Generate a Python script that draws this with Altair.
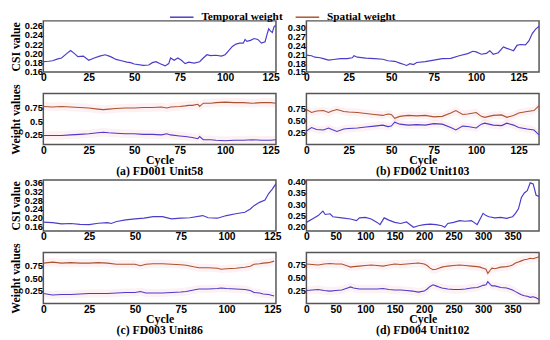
import altair as alt
import pandas as pd

# ---------------- data ----------------
# (a) FD001 Unit58
a_csi_x = [0,3,5,8,10,13,15,17,19,22,25,28,31,34,37,40,43,46,48,50,55,58,60,62,64,67,69,70,72,74,76,78,80,83,86,88,90,92,95,98,100,102,104,106,108,110,111,112,114,116,118,120,122,123,124,125,126,127,128]
a_csi_y = [0.182,0.183,0.184,0.188,0.190,0.200,0.206,0.200,0.193,0.194,0.185,0.190,0.194,0.197,0.193,0.187,0.184,0.181,0.180,0.177,0.174,0.175,0.180,0.182,0.178,0.173,0.178,0.190,0.185,0.190,0.185,0.178,0.181,0.179,0.182,0.190,0.197,0.195,0.196,0.194,0.197,0.206,0.215,0.220,0.222,0.222,0.230,0.226,0.228,0.232,0.230,0.222,0.225,0.240,0.253,0.248,0.245,0.258,0.260]
a_w_x = [0,5,10,15,20,25,30,33,36,40,45,50,55,60,65,68,70,75,78,80,82,85,86,88,92,95,100,105,110,115,120,125,128]
a_spatial = [0.78,0.77,0.78,0.77,0.76,0.75,0.73,0.72,0.73,0.74,0.75,0.75,0.76,0.76,0.77,0.75,0.77,0.78,0.79,0.80,0.80,0.82,0.78,0.84,0.84,0.85,0.86,0.85,0.85,0.84,0.85,0.85,0.84]
a_temporal = [0.24,0.24,0.24,0.25,0.26,0.27,0.29,0.30,0.29,0.28,0.27,0.27,0.26,0.26,0.25,0.27,0.25,0.23,0.22,0.21,0.20,0.18,0.22,0.16,0.16,0.15,0.14,0.15,0.15,0.16,0.15,0.15,0.16]

# (b) FD002 Unit103
b_csi_x = [0,3,5,8,10,13,16,20,24,27,28,30,35,40,45,48,52,55,57,59,61,63,65,70,75,80,85,90,95,98,100,103,106,108,110,113,116,118,120,122,124,126,129,131,133,135,137]
b_csi_y = [0.207,0.205,0.200,0.198,0.195,0.190,0.192,0.195,0.195,0.198,0.205,0.200,0.197,0.195,0.193,0.188,0.186,0.180,0.176,0.172,0.178,0.175,0.182,0.185,0.190,0.195,0.196,0.205,0.212,0.220,0.218,0.210,0.213,0.222,0.210,0.215,0.235,0.230,0.226,0.222,0.240,0.243,0.242,0.255,0.280,0.295,0.305]
b_w_x = [0,3,6,10,13,15,18,22,25,30,35,40,45,48,50,52,55,60,65,70,75,80,85,88,92,95,100,103,105,110,115,118,122,125,130,134,137]
b_spatial = [0.72,0.66,0.69,0.70,0.66,0.69,0.72,0.68,0.67,0.66,0.64,0.62,0.60,0.63,0.62,0.54,0.58,0.60,0.59,0.60,0.57,0.58,0.65,0.70,0.62,0.63,0.66,0.58,0.56,0.60,0.61,0.56,0.60,0.65,0.68,0.70,0.80]
b_temporal = [0.28,0.35,0.31,0.30,0.34,0.31,0.27,0.32,0.33,0.34,0.36,0.38,0.40,0.37,0.38,0.46,0.42,0.40,0.41,0.40,0.43,0.42,0.35,0.30,0.38,0.37,0.34,0.42,0.44,0.40,0.39,0.44,0.40,0.35,0.32,0.30,0.20]

# (c) FD003 Unit86
c_csi_x = [0,5,10,15,20,25,30,35,37,40,45,50,55,60,65,70,75,80,87,90,95,100,105,110,113,115,118,121,123,125,127]
c_csi_y = [0.180,0.178,0.172,0.174,0.170,0.169,0.175,0.178,0.174,0.183,0.190,0.195,0.198,0.205,0.205,0.195,0.198,0.200,0.210,0.200,0.198,0.210,0.218,0.225,0.240,0.255,0.270,0.280,0.310,0.330,0.355]
c_w_x = [0,5,10,15,20,25,30,35,40,45,50,53,56,60,65,70,75,78,82,85,90,95,97,100,105,110,113,115,118,120,123,126]
c_spatial = [0.80,0.82,0.80,0.81,0.80,0.80,0.81,0.80,0.78,0.78,0.78,0.75,0.78,0.79,0.79,0.78,0.77,0.76,0.73,0.71,0.71,0.70,0.68,0.69,0.70,0.72,0.74,0.78,0.79,0.80,0.81,0.84]
c_temporal = [0.20,0.17,0.18,0.18,0.19,0.20,0.20,0.20,0.21,0.22,0.22,0.24,0.21,0.21,0.21,0.22,0.23,0.24,0.27,0.29,0.29,0.30,0.31,0.30,0.29,0.28,0.26,0.22,0.21,0.19,0.18,0.15]

# (d) FD004 Unit102
d_csi_x = [0,10,20,28,32,40,45,60,75,85,90,100,110,120,125,132,140,150,160,170,175,182,190,200,210,220,230,235,240,250,260,270,280,290,300,305,310,320,330,340,350,355,360,365,370,375,380,385,390,395]
d_csi_y = [0.220,0.235,0.250,0.270,0.255,0.258,0.245,0.240,0.235,0.228,0.240,0.242,0.235,0.220,0.210,0.240,0.230,0.220,0.215,0.222,0.212,0.198,0.205,0.210,0.212,0.210,0.205,0.198,0.215,0.220,0.228,0.225,0.228,0.210,0.260,0.250,0.245,0.240,0.242,0.238,0.245,0.260,0.280,0.330,0.350,0.360,0.395,0.390,0.340,0.335]
d_w_x = [0,10,20,30,40,50,60,70,75,80,90,100,110,120,130,140,150,160,170,180,190,200,205,210,215,220,225,230,240,250,260,270,280,290,295,300,305,308,312,315,320,330,340,345,350,355,360,365,370,375,380,385,390,395]
d_spatial = [0.76,0.75,0.74,0.76,0.77,0.76,0.76,0.72,0.70,0.71,0.72,0.73,0.74,0.73,0.72,0.74,0.76,0.75,0.76,0.77,0.78,0.76,0.73,0.68,0.65,0.66,0.68,0.70,0.72,0.73,0.74,0.73,0.72,0.71,0.70,0.68,0.66,0.58,0.64,0.68,0.67,0.70,0.71,0.72,0.74,0.78,0.80,0.82,0.84,0.85,0.87,0.86,0.88,0.90]
d_temporal = [0.25,0.26,0.27,0.25,0.24,0.25,0.26,0.30,0.32,0.30,0.28,0.28,0.28,0.28,0.29,0.27,0.26,0.26,0.25,0.24,0.22,0.24,0.28,0.33,0.36,0.34,0.32,0.30,0.28,0.27,0.27,0.28,0.30,0.31,0.33,0.35,0.36,0.42,0.37,0.34,0.34,0.31,0.30,0.28,0.26,0.23,0.20,0.17,0.15,0.14,0.12,0.13,0.11,0.08]

series_names = ["Temporal weight", "Spatial weight"]
series_colors = ["#4a3cc8", "#a8552f"]
captions = ["(a) FD001 Unit58", "(b) FD002 Unit103", "(c) FD003 Unit86", "(d) FD004 Unit102"]

W = 237
H = 52

legend = alt.Legend(orient="none", legendX=135, legendY=-10, direction="horizontal",
                    title=None, symbolType="M-2.4,0H2.4", symbolSize=100, symbolStrokeWidth=1.5,
                    labelOffset=14, columnPadding=10, padding=0)


def csi_chart(xs, ys, xdom, xticks, ydom, yticks, ytitle):
    df = pd.DataFrame({"Cycle": xs, "CSI": ys})
    if ytitle:
        yax = alt.Axis(values=yticks, format=".2f", title="CSI value", titlePadding=2,
                       labelOverlap=False)
    else:
        yax = alt.Axis(values=yticks, format=".2f", title=None, labelOverlap=False)
    return alt.Chart(df).mark_line(color=series_colors[0], strokeWidth=1.2, clip=True).encode(
        x=alt.X("Cycle:Q", scale=alt.Scale(domain=xdom, nice=False, zero=False),
                axis=alt.Axis(values=xticks, format="d", title=None, labelOverlap=False)),
        y=alt.Y("CSI:Q", scale=alt.Scale(domain=ydom, nice=False, zero=False), axis=yax),
    ).properties(width=W, height=H)


def weight_chart(xs, temporal, spatial, xdom, xticks, ydom, ytitle, caption, label_expr=None):
    n = len(xs)
    df = pd.DataFrame({
        "Cycle": list(xs) + list(xs),
        "W": list(temporal) + list(spatial),
        "Series": [series_names[0]] * n + [series_names[1]] * n,
    })
    yargs = dict(values=[0.25, 0.5, 0.75], format=".2f", labelOverlap=False)
    if label_expr:
        yargs["labelExpr"] = label_expr
    if ytitle:
        yargs["title"] = "Weight values"
        yargs["titlePadding"] = 2
    else:
        yargs["title"] = None
    x = alt.X("Cycle:Q", scale=alt.Scale(domain=xdom, nice=False, zero=False),
              axis=alt.Axis(values=xticks, format="d", title="Cycle", titlePadding=-1,
                            labelOverlap=False))
    yscale = alt.Scale(domain=ydom, nice=False, zero=False)
    base = alt.Chart(df)
    band = base.transform_calculate(lo="datum.W - 0.08", hi="datum.W + 0.08").mark_area(
        color="#f06080", opacity=0.09, clip=True).encode(
        x=x, y=alt.Y("lo:Q", scale=yscale, axis=alt.Axis(**yargs)), y2="hi:Q",
        detail="Series:N")
    line = base.mark_line(strokeWidth=1.1, clip=True).encode(
        x=x, y=alt.Y("W:Q", scale=yscale, axis=alt.Axis(**yargs)),
        color=alt.Color("Series:N", scale=alt.Scale(domain=series_names, range=series_colors),
                        legend=legend),
    )
    return alt.layer(band, line).properties(
        width=W, height=H,
        title=alt.TitleParams(text=caption, orient="bottom", anchor="middle", offset=0,
                              font="Liberation Serif", fontWeight="bold", fontSize=12,
                              color="black"),
    )


t125 = [0, 25, 50, 75, 100, 125]
t350 = [0, 50, 100, 150, 200, 250, 300, 350]

cells = [
    csi_chart(a_csi_x, a_csi_y, [0, 128], t125, [0.16, 0.27], [0.16, 0.18, 0.20, 0.22, 0.24, 0.26], True),
    csi_chart(b_csi_x, b_csi_y, [0, 137], t125, [0.15, 0.323], [0.15, 0.18, 0.21, 0.24, 0.27, 0.30], False),
    weight_chart(a_w_x, a_temporal, a_spatial, [0, 128], t125, [0.07, 1.02], True, captions[0],
                 label_expr="datum.value == 0.5 ? '0.5' : format(datum.value, '.2f')"),
    weight_chart(b_w_x, b_temporal, b_spatial, [0, 137], t125, [0, 1.05], False, captions[1]),
    csi_chart(c_csi_x, c_csi_y, [0, 127], t125, [0.14, 0.372], [0.16, 0.20, 0.24, 0.28, 0.32, 0.36], True),
    csi_chart(d_csi_x, d_csi_y, [0, 395], t350, [0.182, 0.408], [0.20, 0.25, 0.30, 0.35, 0.40], False),
    weight_chart(c_w_x, c_temporal, c_spatial, [0, 127], t125, [0, 1.01], True, captions[2]),
    weight_chart(d_w_x, d_temporal, d_spatial, [0, 395], t350, [0, 0.98], False, captions[3]),
]

chart = alt.concat(*cells, columns=2, spacing={"row": -2, "column": 4}).properties(
    padding={"left": 0, "top": 0, "right": 2, "bottom": 2}
).configure_axis(
    labelFont="Liberation Sans", labelFontWeight="bold", labelColor="black",
    titleFont="Liberation Serif", titleFontWeight="bold", titleFontSize=12, titleColor="black",
    domain=False, ticks=False, grid=False, labelPadding=1, labelOverlap=False, labelFlush=False,
).configure_axisX(
    labelFontSize=10.5
).configure_axisY(
    labelFontSize=9.5
).configure_view(
    stroke="#555555", strokeWidth=1.5
).configure_legend(
    labelFont="Liberation Serif", labelFontWeight="bold", labelFontSize=11.5, labelColor="black",
)

chart.save("out.html", embed_options={"renderer": "svg", "actions": False})
